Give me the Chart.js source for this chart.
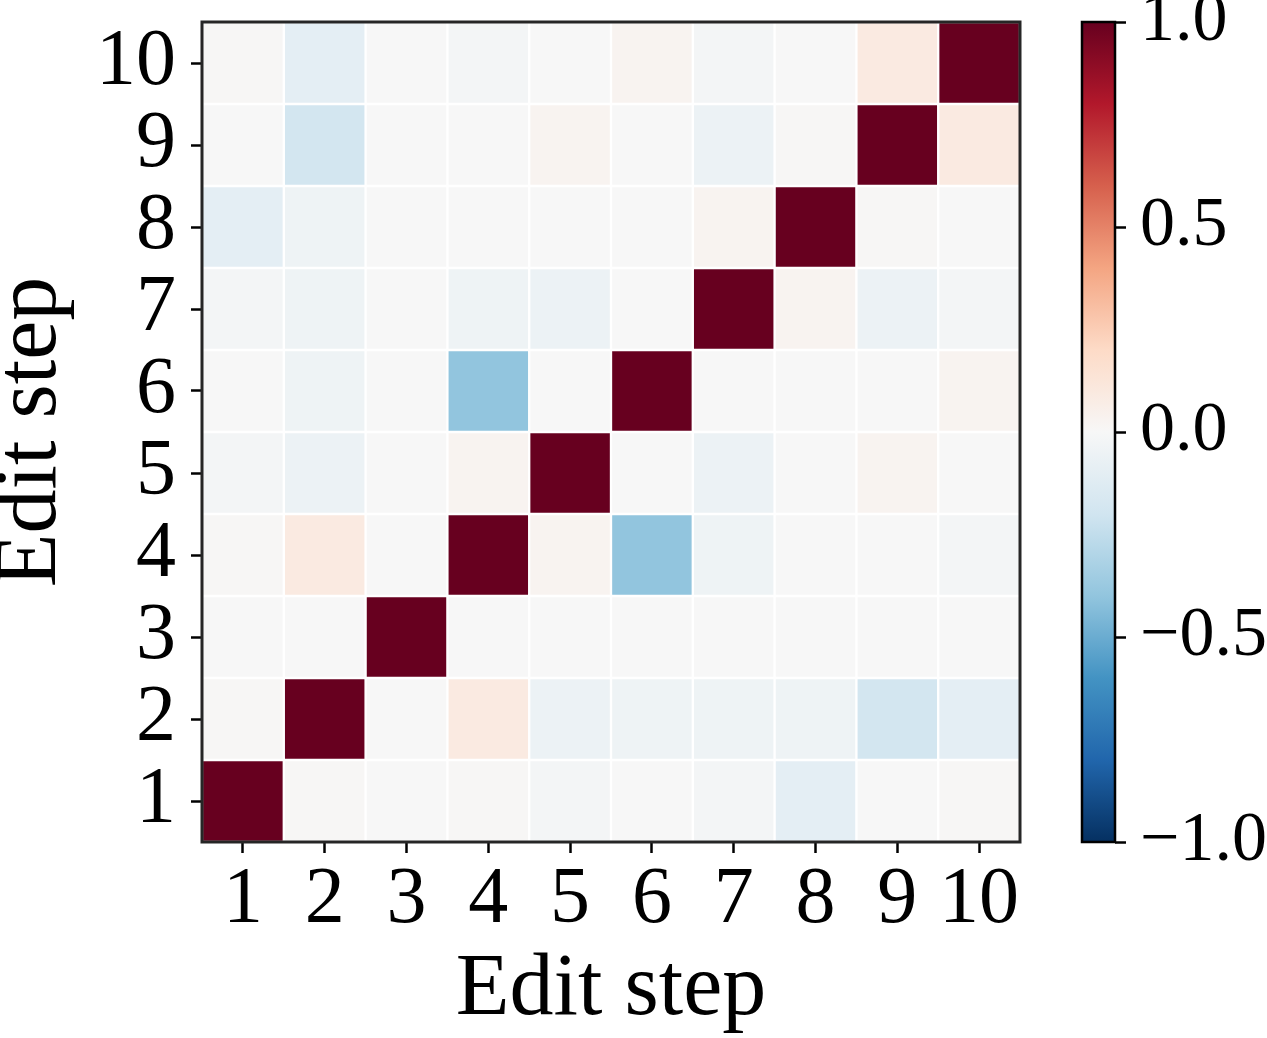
<!DOCTYPE html>
<html>
<head>
<meta charset="utf-8">
<script src="https://cdn.jsdelivr.net/npm/chart.js@4.4.1/dist/chart.umd.min.js"></script>
<style>
  html, body { margin: 0; padding: 0; background: #fff; }
  #wrap { position: relative; width: 1267px; height: 1038px; }
  canvas { position: absolute; left: 0; top: 0; }
</style>
</head>
<body>
<div id="wrap">
  <canvas id="heat" width="1267" height="1038"></canvas>
  <canvas id="cbar" width="1267" height="1038"></canvas>
</div>
<script>
// edit steps on both axes
const steps = ["1", "2", "3", "4", "5", "6", "7", "8", "9", "10"];
const yTicks = [1, 2, 3, 4, 5, 6, 7, 8, 9, 10];
const cbTicks = [-1, -0.5, 0, 0.5, 1];

// correlation of edit step i (row, y) with every step (columns, x)
const step1  = [1.00, 0.01, 0.00, 0.01, -0.02, 0.00, -0.02, -0.10, 0.00, 0.01];
const step2  = [0.01, 1.00, 0.00, 0.09, -0.06, -0.05, -0.05, -0.05, -0.19, -0.10];
const step3  = [0.00, 0.00, 1.00, 0.00, 0.00, 0.00, 0.00, 0.00, 0.00, 0.00];
const step4  = [0.01, 0.09, 0.00, 1.00, 0.03, -0.40, -0.05, 0.00, 0.00, -0.02];
const step5  = [-0.02, -0.06, 0.00, 0.03, 1.00, 0.00, -0.06, 0.00, 0.03, 0.00];
const step6  = [0.00, -0.05, 0.00, -0.40, 0.00, 1.00, 0.00, 0.00, 0.00, 0.03];
const step7  = [-0.02, -0.05, 0.00, -0.05, -0.06, 0.00, 1.00, 0.03, -0.06, -0.02];
const step8  = [-0.10, -0.05, 0.00, 0.00, 0.00, 0.00, 0.03, 1.00, 0.01, 0.00];
const step9  = [0.00, -0.19, 0.00, 0.00, 0.03, 0.00, -0.06, 0.01, 1.00, 0.09];
const step10 = [0.01, -0.10, 0.00, -0.02, 0.00, 0.03, -0.02, 0.00, 0.09, 1.00];
const rows = [step1, step2, step3, step4, step5, step6, step7, step8, step9, step10];

// RdBu_r colour map, -1 .. 1
const rdbu = ["#053061", "#2166ac", "#4393c3", "#92c5de", "#d1e5f0", "#f7f7f7",
              "#fddbc7", "#f4a582", "#d6604d", "#b2182b", "#67001f"];

const hex = h => [1, 3, 5].map(i => parseInt(h.substr(i, 2), 16));
const colorFor = v => {
  const t = (Math.max(-1, Math.min(1, v)) + 1) / 2 * (rdbu.length - 1);
  const i = Math.min(Math.floor(t), rdbu.length - 2);
  const f = t - i;
  const a = hex(rdbu[i]), b = hex(rdbu[i + 1]);
  const c = a.map((x, k) => Math.round(x + (b[k] - x) * f));
  return `rgb(${c[0]}, ${c[1]}, ${c[2]})`;
};

const serif = "'Liberation Serif', 'Times New Roman', serif";

// keep chart.js from adding room for the outer tick labels
const noPad = s => { s.paddingTop = 0; s.paddingBottom = 0; s.paddingLeft = 0; s.paddingRight = 0; };

const framePlugin = (color, width) => ({
  id: "frame",
  afterDatasetsDraw(chart) {
    const { ctx, chartArea: a } = chart;
    ctx.save();
    ctx.strokeStyle = color;
    ctx.lineWidth = width;
    ctx.strokeRect(a.left, a.top, a.right - a.left, a.bottom - a.top);
    ctx.restore();
  }
});

// heatmap: one floating-bar dataset per row
let heatData = {
  labels: steps,
  datasets: rows.map((r, i) => ({
    label: "step " + yTicks[i],
    data: r.map(() => [yTicks[i] - 0.5, yTicks[i] + 0.5]),
    backgroundColor: r.map(colorFor),
    borderColor: "#ffffff",
    borderWidth: 1.5,
    borderSkipped: false,
    grouped: false,
    barPercentage: 1,
    categoryPercentage: 1
  }))
};

let heatOption = {
  responsive: false,
  animation: false,
  layout: { padding: { left: 0, top: 22, right: 247, bottom: 0 } },
  plugins: { legend: { display: false }, tooltip: { enabled: false } },
  scales: {
    x: {
      grid: { offset: false, drawOnChartArea: false, tickLength: 11, tickWidth: 2.5, tickColor: "#000" },
      border: { display: false },
      ticks: { color: "#000", padding: 0, autoSkip: false, maxRotation: 0, font: { family: serif, size: 80 } },
      title: { display: true, text: "Edit step", color: "#000", font: { family: serif, size: 88, lineHeight: 1 }, padding: { top: 0, bottom: 3 } },
      afterFit: s => { s.height = 196; noPad(s); }
    },
    y: {
      type: "linear",
      min: 0.5,
      max: 10.5,
      afterBuildTicks: s => { s.ticks = yTicks.map(v => ({ value: v })); },
      grid: { drawOnChartArea: false, tickLength: 11, tickWidth: 2.5, tickColor: "#000" },
      border: { display: false },
      ticks: { color: "#000", padding: 15, autoSkip: false, font: { family: serif, size: 80 } },
      title: { display: true, text: "Edit step", color: "#000", font: { family: serif, size: 88, lineHeight: 0.7 }, padding: { top: 1, bottom: 0 } },
      afterFit: s => { s.width = 202; noPad(s); }
    }
  }
};

// colour bar: one floating bar from -1 to 1 filled with the colour map
let cbarData = {
  labels: [""],
  datasets: [{
    data: [[cbTicks[0], cbTicks[cbTicks.length - 1]]],
    backgroundColor: c => {
      const chart = c.chart;
      if (!chart.chartArea) return rdbu[5];
      const y = chart.scales.y;
      const g = chart.ctx.createLinearGradient(0, y.getPixelForValue(-1), 0, y.getPixelForValue(1));
      rdbu.forEach((col, i) => g.addColorStop(i / (rdbu.length - 1), col));
      return g;
    },
    borderWidth: 0,
    barPercentage: 1,
    categoryPercentage: 1
  }]
};

let cbarOption = {
  responsive: false,
  animation: false,
  layout: { padding: { left: 1082, top: 22, right: 0, bottom: 196 } },
  plugins: { legend: { display: false }, tooltip: { enabled: false } },
  scales: {
    x: { display: false },
    y: {
      type: "linear",
      position: "right",
      min: -1,
      max: 1,
      afterBuildTicks: s => { s.ticks = cbTicks.map(v => ({ value: v })); },
      grid: { drawOnChartArea: false, tickLength: 11, tickWidth: 2.5, tickColor: "#000" },
      border: { display: false },
      ticks: {
        color: "#000",
        padding: 14,
        autoSkip: false,
        font: { family: serif, size: 70 },
        callback: v => v.toFixed(1).replace("-", "\u2212")
      },
      afterFit: s => { s.width = 152; noPad(s); }
    }
  }
};

let printChart = (id, type, cData, cOption, plugins) => {
  new Chart(document.getElementById(id).getContext("2d"), {
    type: type,
    data: cData,
    options: cOption,
    plugins: plugins
  });
};

printChart("heat", "bar", heatData, heatOption, [framePlugin("#262626", 3)]);
printChart("cbar", "bar", cbarData, cbarOption, [framePlugin("#000000", 2.5)]);
</script>
</body>
</html>
